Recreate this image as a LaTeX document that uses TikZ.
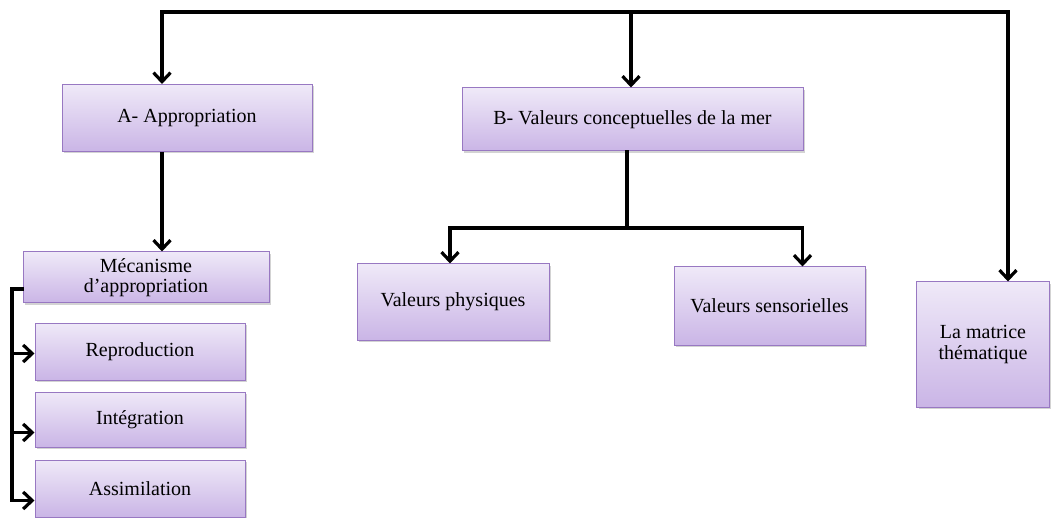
\documentclass[tikz,border=0pt]{standalone}
\usepackage{fontspec}
\setmainfont{Liberation Serif}
\usetikzlibrary{arrows.meta,shadows,calc}
\definecolor{boxtop}{HTML}{EFE9F8}
\definecolor{boxbot}{HTML}{CAB5E6}
\definecolor{boxline}{HTML}{9878C2}
\tikzset{
  box/.style={rectangle, draw=boxline, line width=1pt, top color=boxtop, bottom color=boxbot,
    drop shadow={shadow xshift=2pt, shadow yshift=-2pt, opacity=0.35},
    font=\fontsize{20}{23}\selectfont, align=center, inner sep=2pt},
  conn/.style={line width=3.2pt, draw=black, line cap=rect},
  arr/.style={line width=3.2pt, draw=black, -{Straight Barb[length=9pt,width=17pt]}}
}
\begin{document}
\begin{tikzpicture}[x=1pt,y=-1pt]
\useasboundingbox (0,0) rectangle (1051,518);
\node[box, minimum width=250pt, minimum height=67pt] (A) at (187,118) {A- Appropriation};
\node[box, minimum width=341pt, minimum height=63pt] (B) at (632.5,119.5) {B- Valeurs conceptuelles de la mer};
\node[box, minimum width=246pt, minimum height=51pt] (M) at (146,277.5) {Mécanisme\\[-3pt]d’appropriation};
\node[box, minimum width=210pt, minimum height=57pt] (R) at (140,351.5) {Reproduction};
\node[box, minimum width=210pt, minimum height=55pt] (I) at (140,419.5) {Intégration};
\node[box, minimum width=210pt, minimum height=57pt] (S) at (140,488.5) {Assimilation};
\node[box, minimum width=192pt, minimum height=76pt] (VP) at (453,302) {Valeurs physiques};
\node[box, minimum width=191pt, minimum height=78pt] (VS) at (769.5,306) {Valeurs sensorielles};
\node[box, minimum width=133pt, minimum height=125pt] (LM) at (983,344.5) {La matrice\\[-2pt]thématique};
% top distribution
\coordinate (top) at (631,12);
\draw[conn] ([xshift=-25pt]A.north |- top) -- ([xshift=25pt]LM.north |- top);
\draw[arr] (top) -- (top |- B.north);
\draw[arr] ([xshift=-25pt]A.north |- top) -- ([xshift=-25pt]A.north);
\draw[arr] ([xshift=25pt]LM.north |- top) -- ([xshift=25pt]LM.north);
% A to Mecanisme
\draw[arr] ([xshift=-25pt]A.south) -- ([xshift=-25pt]A.south |- M.north);
% B to values
\coordinate (bj) at (627,228);
\draw[conn] (bj |- B.south) -- (bj);
\draw[conn] ([xshift=-3pt]VP.north |- bj) -- ([xshift=33pt]VS.north |- bj);
\draw[arr] ([xshift=-3pt]VP.north |- bj) -- ([xshift=-3pt]VP.north);
\draw[arr] ([xshift=33pt]VS.north |- bj) -- ([xshift=33pt]VS.north);
% Mecanisme bracket
\coordinate (mb) at (12,289);
\draw[conn] (M.west |- mb) -- (mb) -- ([yshift=-12pt]mb |- S.west);
\draw[arr] ([yshift=-2pt]mb |- R.west) -- ([yshift=-2pt]R.west);
\draw[arr] ([yshift=-13pt]mb |- I.west) -- ([yshift=-13pt]I.west);
\draw[arr] ([yshift=-12pt]mb |- S.west) -- ([yshift=-12pt]S.west);
\end{tikzpicture}
\end{document}
